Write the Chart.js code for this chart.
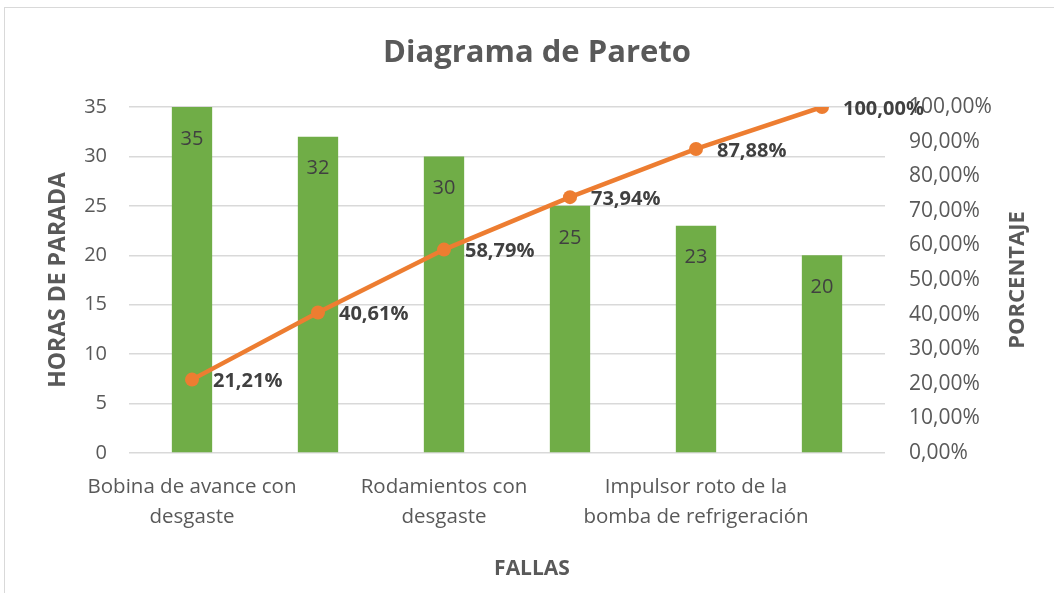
<!DOCTYPE html>
<html>
<head>
<meta charset="utf-8">
<script src="https://cdn.jsdelivr.net/npm/chart.js@4/dist/chart.umd.min.js"></script>
<style>
  html, body { margin: 0; padding: 0; background: #ffffff; }
  #wrap { width: 1054px; height: 593px; position: relative; }
</style>
</head>
<body>
<div id="wrap"><canvas id="c" width="1054" height="593"></canvas></div>
<script>
// Categories (only every other label is visible in the reference; hidden ones are placeholders)
const categories = [
  ["Bobina de avance con", "desgaste"],
  "Falla 2",
  ["Rodamientos con", "desgaste"],
  "Falla 4",
  ["Impulsor roto de la", "bomba de refrigeración"],
  "Falla 6"
];
const horasParada = [35, 32, 30, 25, 23, 20];
const porcentajeAcumulado = [21.21, 40.61, 58.79, 73.94, 87.88, 100.00];
const leftTicksMax = 35;
const rightTicksMax = 100;
const chartTitle = 'Diagrama de Pareto';
const xTitle = 'FALLAS';
const rightTitle = 'PORCENTAJE';

const FONT = "'Open Sans', 'DejaVu Sans', sans-serif";
const GREY = '#595959';
const DARK = '#404040';

function pct(v) { return v.toFixed(2).replace('.', ',') + '%'; }

const decorPlugin = {
  id: 'decor',
  beforeDraw(chart) {
    const ctx = chart.ctx;
    ctx.save();
    ctx.strokeStyle = '#d9d9d9';
    ctx.lineWidth = 1;
    ctx.strokeRect(4.5, 7.5, 1070, 620);
    // chart title (centred on the outer frame, as in the reference)
    ctx.font = "bold 31px " + FONT;
    ctx.fillStyle = GREY;
    ctx.textAlign = 'center';
    ctx.textBaseline = 'middle';
    ctx.fillText(chartTitle, 537, 53);
    // x axis title
    ctx.font = "bold 21px " + FONT;
    ctx.fillText(xTitle, 532, 569);
    ctx.restore();
  },
  afterDatasetsDraw(chart) {
    const ctx = chart.ctx;
    ctx.save();
    // bar labels
    const barMeta = chart.getDatasetMeta(1);
    ctx.font = "20px " + FONT;
    ctx.fillStyle = DARK;
    ctx.textAlign = 'center';
    ctx.textBaseline = 'middle';
    barMeta.data.forEach((el, i) => {
      ctx.fillText(String(horasParada[i]), el.x, el.y + 32);
    });
    // line labels
    const lineMeta = chart.getDatasetMeta(0);
    ctx.font = "bold 20px " + FONT;
    ctx.textAlign = 'left';
    lineMeta.data.forEach((el, i) => {
      ctx.fillText(pct(porcentajeAcumulado[i]), el.x + 21, el.y + 2);
    });
    // right axis title (reads bottom to top)
    const ca = chart.chartArea;
    ctx.translate(1018, (ca.top + ca.bottom) / 2);
    ctx.rotate(-Math.PI / 2);
    ctx.font = "bold 22px " + FONT;
    ctx.fillStyle = GREY;
    ctx.textAlign = 'center';
    ctx.textBaseline = 'middle';
    ctx.fillText(rightTitle, 0, 0);
    ctx.restore();
  }
};

new Chart(document.getElementById('c'), {
  data: {
    labels: categories,
    datasets: [
      {
        type: 'line',
        label: 'Porcentaje',
        data: porcentajeAcumulado,
        yAxisID: 'y1',
        borderColor: '#ED7D31',
        backgroundColor: '#ED7D31',
        borderWidth: 4.5,
        pointRadius: 7,
        pointHoverRadius: 7,
        pointBorderWidth: 0,
        tension: 0,
        order: 0
      },
      {
        type: 'bar',
        label: 'Horas de parada',
        data: horasParada,
        yAxisID: 'y',
        backgroundColor: '#70AD47',
        borderWidth: 0,
        barPercentage: 0.32,
        categoryPercentage: 1.0,
        order: 1
      }
    ]
  },
  options: {
    responsive: false,
    animation: false,
    layout: { padding: { top: 107, left: 0, right: 0, bottom: 0 } },
    plugins: {
      legend: { display: false },
      tooltip: { enabled: false },
      title: { display: false }
    },
    scales: {
      x: {
        offset: true,
        grid: { display: false },
        border: { display: false },
        ticks: {
          autoSkip: false,
          maxRotation: 0,
          minRotation: 0,
          padding: 12,
          color: GREY,
          font: { family: FONT, size: 20.5, lineHeight: 1.42 },
          callback: function (v, i) { return i % 2 === 0 ? categories[i] : ''; }
        },
        title: { display: false },
        afterFit(s) { s.height = 140; }
      },
      y: {
        position: 'left',
        min: 0,
        max: leftTicksMax,
        grid: { color: '#d9d9d9', lineWidth: 1.5, drawTicks: false },
        border: { display: false },
        ticks: {
          stepSize: 5,
          padding: 22,
          color: GREY,
          font: { family: FONT, size: 20 }
        },
        title: {
          display: true,
          text: 'HORAS DE PARADA',
          color: GREY,
          font: { family: FONT, size: 23, weight: 'bold', lineHeight: 1.2 },
          padding: { top: 45, bottom: 0 }
        },
        afterFit(s) { s.width = 129; }
      },
      y1: {
        position: 'right',
        min: 0,
        max: rightTicksMax,
        grid: { display: false, drawTicks: false },
        border: { display: false },
        ticks: {
          stepSize: 10,
          padding: 24,
          color: GREY,
          font: { family: FONT, size: 21 },
          callback: function (v) { return pct(v); }
        },
        afterFit(s) { s.width = 169; }
      }
    }
  },
  plugins: [decorPlugin]
});
</script>
</body>
</html>
